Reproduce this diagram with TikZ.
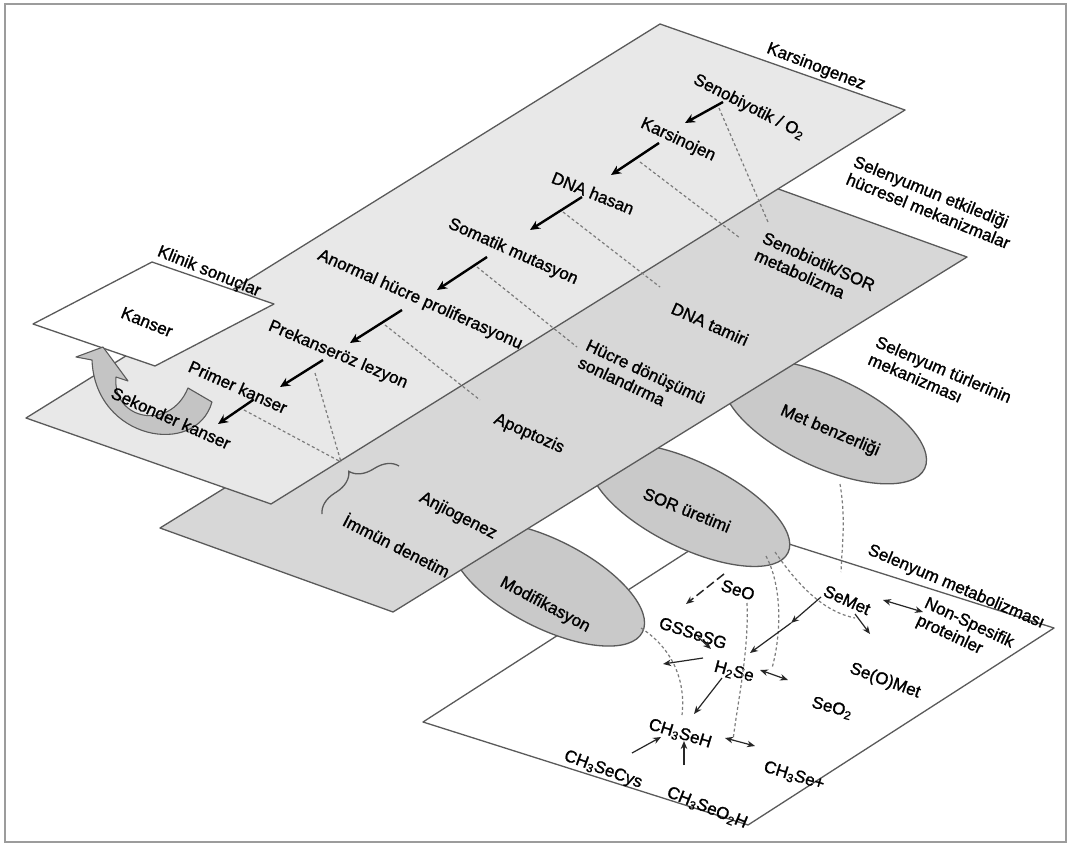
\documentclass[tikz,border=0pt]{standalone}
\usepackage{fontspec}
\setmainfont{Liberation Sans}
\newfontfamily\lblfont{Liberation Sans}[FakeBold=1.3]
\usetikzlibrary{arrows.meta,decorations.pathreplacing,shapes.geometric}
\definecolor{edgec}{HTML}{5A5A5A}
\definecolor{framec}{HTML}{9C9C9C}
\definecolor{pone}{HTML}{E8E8E8}
\definecolor{ptwo}{HTML}{D7D7D7}
\definecolor{ellc}{HTML}{C9C9C9}
\definecolor{dashc}{HTML}{7C7C7C}
\definecolor{arrc}{HTML}{C4C4C4}
\newcommand{\sbs}[1]{\textsubscript{#1}}
\begin{document}
\begin{tikzpicture}[x=1pt,y=-1pt,
 plane/.style={draw=edgec,line width=1.3pt,line join=round},
 ell/.style={ellipse,draw=edgec,line width=1.3pt,fill=ellc,inner sep=0pt},
 lbl/.style={font=\lblfont\fontsize{17}{19}\selectfont,inner sep=0pt},
 chain/.style={line width=2.4pt,-{Stealth[length=10pt,width=9pt]}},
 link/.style={draw=dashc,line width=1.2pt,dash pattern=on 3pt off 2.5pt},
 flow/.style={line width=1.2pt,draw=black!85,-{Stealth[length=8pt,width=6.5pt]}},
 both/.style={line width=1.2pt,draw=black!85,{Stealth[length=8pt,width=6.5pt]}-{Stealth[length=8pt,width=6.5pt]}},
]
\useasboundingbox (0,0) rectangle (1070,845);
\draw[framec,line width=1.8pt] (5,4) rectangle (1066,842);

% plane 3: Selenyum metabolizmasi
\draw[plane,fill=white] (729,525) -- (1054,628) -- (748,825) -- (423,722) -- cycle;

% ellipses
\node[ell,minimum width=220pt,minimum height=90pt,rotate=-25] (met) at (825,422) {};
\node[ell,minimum width=218pt,minimum height=86pt,rotate=-26] (sor) at (690,505) {};
\node[ell,minimum width=212pt,minimum height=88pt,rotate=-27] (mod) at (548,584) {};

% plane 2
\draw[plane,fill=ptwo] (734,173) -- (967,257) -- (393,612) -- (160,528) -- cycle;
% plane 1
\draw[plane,fill=pone] (660,24) -- (905,110) -- (271,504) -- (26,418) -- cycle;
% Klinik sonuclar plane
\draw[plane,fill=white] (152,262) -- (274,304) -- (155,366) -- (33,324) -- cycle;

% ---- curved block arrow (Sekonder kanser -> Kanser)
\draw[draw=edgec,line width=1.1pt,fill=arrc,line join=round]
 (103,347) -- (128,381) -- (116,377)
 .. controls (112,420) and (170,432) .. (188,388)
 -- (212,402)
 .. controls (196,458) and (95,440) .. (92,360)
 -- (76,357) -- cycle;

% ---- labels plane 1
\node[lbl,rotate=-21] (karsg) at (816,67) {Karsinogenez};
\node[lbl,rotate=-27] (seno) at (749,107) {Senobiyotik / O\sbs{2}};
\node[lbl,rotate=-25] (karsj) at (678,140) {Karsinojen};
\node[lbl,rotate=-22] (dnah) at (593,193) {DNA hasan};
\node[lbl,rotate=-24] (soma) at (513,252) {Somatik mutasyon};
\node[lbl,rotate=-24] (anor) at (420,300) {Anormal hücre proliferasyonu};
\node[lbl,rotate=-23] (prek) at (338,355) {Prekanseröz lezyon};
\node[lbl,rotate=-24] (prim) at (238,387) {Primer kanser};
\node[lbl,rotate=-24] (seko) at (171,418) {Sekonder kanser};
\node[lbl,rotate=-22] (kans) at (147,322) {Kanser};
\node[lbl,rotate=-22] (klin) at (209,272) {Klinik sonuçlar};

% ---- labels plane 2
\node[lbl,rotate=-22,align=left] (selh) at (932,202) {Selenyumun etkilediği\\hücresel mekanizmalar};
\node[lbl,rotate=-24,align=left] (senm) at (815,270) {Senobiotik/SOR\\metabolizma};
\node[lbl,rotate=-24] (dnat) at (710,324) {DNA tamiri};
\node[lbl,rotate=-25,align=left] (hucr) at (642,380) {Hücre dönüşümü\\sonlandırma};
\node[lbl,rotate=-24] (apop) at (529,434) {Apoptozis};
\node[lbl,rotate=-27] (anji) at (458,516) {Anjiogenez};
\node[lbl,rotate=-27] (immu) at (397,545) {İmmün denetim};

% ---- ellipse labels
\node[lbl,rotate=-23] (metl) at (830,431) {Met benzerliği};
\node[lbl,rotate=-22] (sorl) at (687,510) {SOR üretimi};
\node[lbl,rotate=-28] (modl) at (545,605) {Modifikasyon};
\node[lbl,rotate=-23,align=left] (selt) at (940,378) {Selenyum türlerinin\\mekanizması};

% ---- labels plane 3
\node[lbl,rotate=-23] (selm) at (956,587) {Selenyum metabolizması};
\node[lbl,rotate=-18] (seo) at (738,590) {SeO};
\node[lbl,rotate=-24] (semet) at (847,600) {SeMet};
\node[lbl,rotate=-25,align=left] (nons) at (965,632) {Non-Spesifik\\proteinler};
\node[lbl,rotate=-18] (gss) at (693,633) {GSSeSG};
\node[lbl,rotate=-15] (h2se) at (734,672) {H\sbs{2}Se};
\node[lbl,rotate=-20] (seom) at (885,681) {Se(O)Met};
\node[lbl,rotate=-15] (seo2) at (832,708) {SeO\sbs{2}};
\node[lbl,rotate=-17] (ch3seh) at (680,734) {CH\sbs{3}SeH};
\node[lbl,rotate=-20] (ch3cys) at (603,770) {CH\sbs{3}SeCys};
\node[lbl,rotate=-17] (ch3sep) at (794,776) {CH\sbs{3}Se+};
\node[lbl,rotate=-22] (ch3so2) at (707,808) {CH\sbs{3}SeO\sbs{2}H};

% ---- chain arrows
\coordinate (c1a) at (723,102); \coordinate (c1b) at (685,123);
\coordinate (c2a) at (659,143); \coordinate (c2b) at (611,175);
\coordinate (c3a) at (582,197); \coordinate (c3b) at (530,230);
\coordinate (c4a) at (487,257); \coordinate (c4b) at (437,290);
\coordinate (c5a) at (402,310); \coordinate (c5b) at (350,343);
\coordinate (c6a) at (323,360); \coordinate (c6b) at (280,387);
\coordinate (c7a) at (253,400); \coordinate (c7b) at (218,424);
\draw[chain] (c1a) -- (c1b);
\draw[chain] (c2a) -- (c2b);
\draw[chain] (c3a) -- (c3b);
\draw[chain] (c4a) -- (c4b);
\draw[chain] (c5a) -- (c5b);
\draw[chain] (c6a) -- (c6b);
\draw[chain] (c7a) -- (c7b);

% ---- dashed links plane 1 -> plane 2
\coordinate (l1a) at (719,108); \coordinate (l1b) at (768,222);
\coordinate (l2a) at (640,162); \coordinate (l2b) at (740,238);
\coordinate (l3a) at (563,212); \coordinate (l3b) at (660,287);
\coordinate (l4a) at (477,267); \coordinate (l4b) at (577,347);
\coordinate (l5a) at (385,325); \coordinate (l5b) at (480,400);
\coordinate (l6a) at (315,373); \coordinate (conv) at (341,462);
\coordinate (l7a) at (244,410);
\draw[link] (l1a) -- (l1b);
\draw[link] (l2a) -- (l2b);
\draw[link] (l3a) -- (l3b);
\draw[link] (l4a) -- (l4b);
\draw[link] (l5a) -- (l5b);
\draw[link] (l6a) -- (conv);
\draw[link] (l7a) -- (conv);

% brace
\coordinate (br1) at (322,514); \coordinate (br2) at (399,466);
\draw[edgec,line width=1.3pt,decorate,decoration={brace,amplitude=22pt}] (br1) -- (br2);

% ---- plane 3 dashed curves
\coordinate (m1) at (840,484); \coordinate (m2) at (841,572);
\draw[link] (m1) .. controls (846,520) and (842,545) .. (m2);
\coordinate (s1) at (747,603); \coordinate (s2) at (733,740);
\draw[link] (s1) .. controls (749,650) and (738,700) .. (s2);
\coordinate (s3) at (766,556); \coordinate (s4) at (772,668);
\draw[link] (s3) .. controls (784,590) and (780,640) .. (s4);
\coordinate (s5) at (775,552); \coordinate (s6) at (855,618);
\draw[link] (s5) .. controls (800,588) and (825,612) .. (s6);
\coordinate (md1) at (641,628); \coordinate (md2) at (682,715);
\draw[link] (md1) .. controls (672,648) and (686,680) .. (md2);

% SeO dashed arrow
\coordinate (so1) at (724,574); \coordinate (so2) at (686,604);
\draw[line width=1.5pt,black!85,dash pattern=on 9pt off 4pt,-{Stealth[length=8pt,width=6.5pt]}] (so1) -- (so2);

% ---- plane 3 solid arrows
\coordinate (a1a) at (821,597); \coordinate (a1b) at (791,623);
\coordinate (a2b) at (750,653);
\draw[flow] (a1a) -- (a1b);
\draw[flow] (a1b) -- (a2b);
\coordinate (a3a) at (883,600); \coordinate (a3b) at (923,612);
\draw[both] (a3a) -- (a3b);
\coordinate (a4a) at (855,614); \coordinate (a4b) at (870,634);
\draw[flow] (a4a) -- (a4b);
\coordinate (a5a) at (698,637); \coordinate (a5b) at (711,649);
\draw[flow] (a5a) -- (a5b);
\coordinate (a6a) at (703,658); \coordinate (a6b) at (663,664);
\draw[flow] (a6a) -- (a6b);
\coordinate (a7a) at (722,678); \coordinate (a7b) at (694,714);
\draw[flow] (a7a) -- (a7b);
\coordinate (a8a) at (760,670); \coordinate (a8b) at (788,680);
\draw[both] (a8a) -- (a8b);
\coordinate (a9a) at (725,738); \coordinate (a9b) at (755,746);
\draw[both] (a9a) -- (a9b);
\coordinate (a10a) at (632,753); \coordinate (a10b) at (661,737);
\draw[flow] (a10a) -- (a10b);
\coordinate (a11a) at (684,765); \coordinate (a11b) at (684,741);
\draw[flow] (a11a) -- (a11b);
\end{tikzpicture}
\end{document}
